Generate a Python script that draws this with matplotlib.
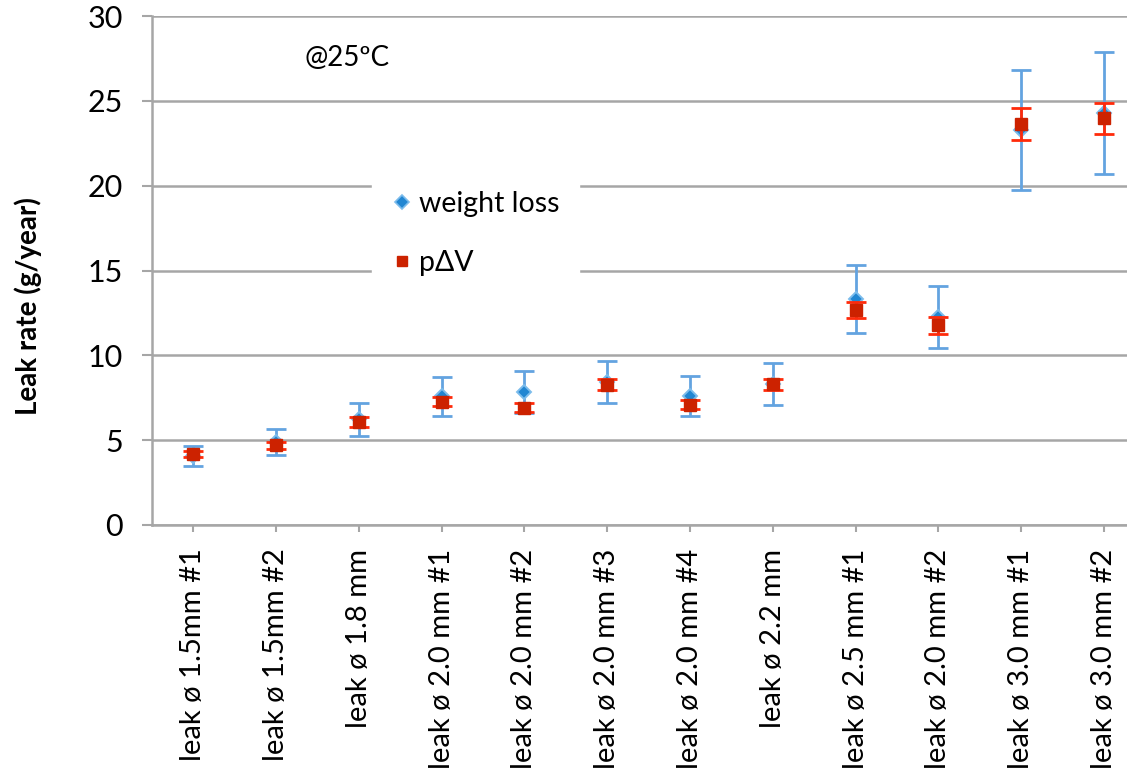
import numpy as np
import matplotlib
matplotlib.use("Agg")
import matplotlib.pyplot as plt
from matplotlib.lines import Line2D

plt.rcParams['font.family'] = ['Lato', 'DejaVu Sans']

#=== Messwerte Leckraten ===
proben = ["leak ø 1.5mm #1", "leak ø 1.5mm #2", "leak ø 1.8 mm",
          "leak ø 2.0 mm #1", "leak ø 2.0 mm #2", "leak ø 2.0 mm #3",
          "leak ø 2.0 mm #4", "leak ø 2.2 mm", "leak ø 2.5 mm #1",
          "leak ø 2.0 mm #2", "leak ø 3.0 mm #1", "leak ø 3.0 mm #2"]

gewicht = [4.07, 4.87, 6.23, 7.60, 7.82, 8.45, 7.59, 8.30, 13.32, 12.28, 23.28, 24.29]
gewicht_err = [0.58, 0.77, 0.97, 1.15, 1.24, 1.24, 1.17, 1.24, 2.01, 1.82, 3.52, 3.60]

pdv = [4.18, 4.70, 6.05, 7.27, 6.92, 8.27, 7.10, 8.29, 12.67, 11.76, 23.65, 23.97]
pdv_err = [0.17, 0.20, 0.29, 0.25, 0.27, 0.32, 0.26, 0.32, 0.47, 0.49, 0.95, 0.93]

y_ticks = [0, 5, 10, 15, 20, 25, 30]

grau = "#a6a6a6"
x = np.arange(len(proben))

fig = plt.figure(figsize=(11.27, 7.71), dpi=100)
ax = fig.add_axes([152/1127, 1 - 525/771, 993.3/1127, 509/771])

# Gewichtsverlust (blau)
ax.errorbar(x, gewicht, yerr=gewicht_err, fmt='none', ecolor="#63a3e0",
            elinewidth=2.0, capsize=7.5, capthick=2.0, zorder=3)
ax.plot(x, gewicht, ls='none', marker='D', ms=7.5, color="#2186d2",
        mec="#7cbcec", mew=1.4, zorder=4)

# p*dV (rot)
ax.errorbar(x, pdv, yerr=pdv_err, fmt='none', ecolor="#ff2a0a",
            elinewidth=2.0, capsize=7.5, capthick=2.0, zorder=5)
ax.plot(x, pdv, ls='none', marker='s', ms=8, color="#cc2200",
        mec="#cc2200", zorder=6)

ax.set_xlim(-0.5, len(proben) - 0.5)
ax.set_ylim(0, 30)
ax.set_yticks(y_ticks)
ax.set_xticks(x)
ax.set_xticklabels(proben, rotation=90, fontsize=21)
ax.tick_params(axis='y', labelsize=22, length=7, width=1.5, color=grau, pad=14)
ax.tick_params(axis='x', length=5, width=1.5, color=grau, pad=12)

ax.grid(axis='y', color=grau, lw=1.8, zorder=0)
ax.set_axisbelow(True)
for s in ["top", "right"]:
    ax.spines[s].set_visible(False)
for s in ["left", "bottom"]:
    ax.spines[s].set_color(grau)
    ax.spines[s].set_linewidth(1.8)

ax.set_ylabel("Leak rate (g/year)", fontsize=20, fontweight='bold')
ax.yaxis.set_label_coords(-0.111, 0.43)

fig.text(305/1127, 1 - 57.7/771, "@25ºC", fontsize=20, va='center', ha='left')

handles = [Line2D([], [], ls='none', marker='D', ms=7, color="#2186d2", mec="#7cbcec", mew=1.2),
           Line2D([], [], ls='none', marker='s', ms=7, color="#cc2200")]
leg = ax.legend(handles, ["weight loss", "pΔV"], loc='upper left',
                bbox_to_anchor=(372/1127, 1 - 171/771), bbox_transform=fig.transFigure,
                fontsize=20.5, frameon=True, facecolor='white', edgecolor='white',
                framealpha=1, fancybox=False, handlelength=0.7, handletextpad=0.25,
                labelspacing=1.15, borderpad=0.7, borderaxespad=0)
leg.set_zorder(2)

fig.savefig("out.png", dpi=100)
